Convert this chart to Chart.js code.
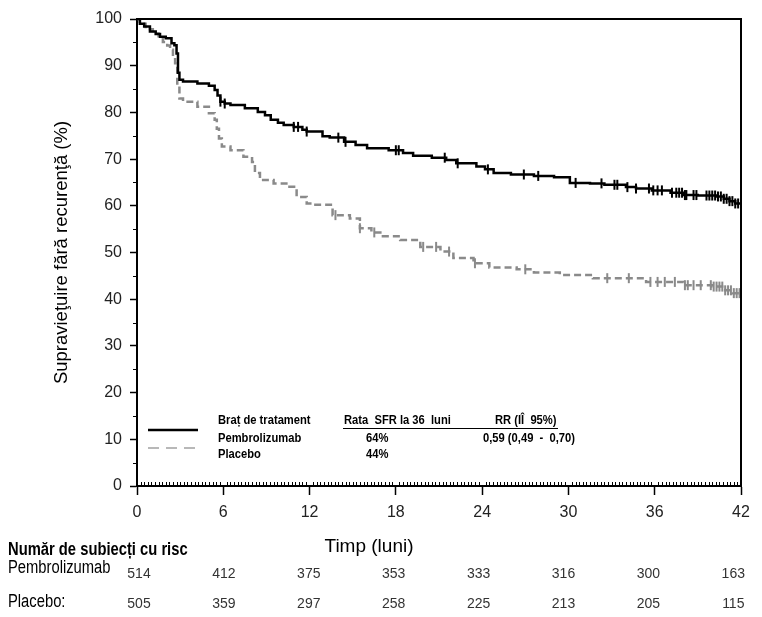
<!DOCTYPE html>
<html>
<head>
    <title>Supraviețuire fără recurență</title>
    <script src="https://cdn.jsdelivr.net/npm/chart.js"></script>
    <style>
        body { margin: 0; background: white; font-family: 'Liberation Sans', Arial, sans-serif; }
        .wrap { position: relative; width: 762px; height: 617px; overflow: hidden; }
        canvas { position: absolute; left: 0; top: 0; }
        .t { position: absolute; white-space: nowrap; color: #000; }
        /* no narrow face installed, so squeeze the regular one */
        .narrow { transform: scaleX(0.82); transform-origin: 0 50%; }
        .leg { font-size: 13px; font-weight: bold; line-height: 16px; transform: scaleX(0.86); transform-origin: 0 50%; }
        .num { font-size: 14px; line-height: 16px; width: 40px; text-align: center; color: #333; }
    </style>
</head>
<body>
<div class="wrap" id="wrap">
    <canvas id="kmChart" width="762" height="617"></canvas>

    <div class="t leg" style="left:218px; top:412px;">Braț de tratament</div>
    <div class="t leg" style="left:218px; top:430px;">Pembrolizumab</div>
    <div class="t leg" style="left:218px; top:446px;">Placebo</div>
    <div class="t leg" style="left:344px; top:412px;">Rata&nbsp; SFR la 36&nbsp; luni</div>
    <div class="t leg" style="left:366px; top:430px;">64%</div>
    <div class="t leg" style="left:366px; top:446px;">44%</div>
    <div class="t leg" style="left:495px; top:412px;">RR (IÎ&nbsp; 95%)</div>
    <div class="t leg" style="left:483px; top:430px;">0,59 (0,49&nbsp; -&nbsp; 0,70)</div>
    <div style="position:absolute; left:343px; top:428px; width:215px; height:1px; background:#000;"></div>

    <div class="t" style="left:269px; top:535px; width:200px; text-align:center; font-size:19px; line-height:22px;">Timp (luni)</div>
    <div class="t narrow" style="left:8px; top:539px; font-size:18px; font-weight:bold; line-height:20px;">Număr de subiecți cu risc</div>
    <div class="t narrow" style="left:8px; top:557px; font-size:18px; line-height:20px;">Pembrolizumab</div>
    <div class="t narrow" style="left:8px; top:591px; font-size:18px; line-height:20px;">Placebo:</div>
    <div id="riskRows"></div>
</div>

<script>
    // Kaplan-Meier steps (time in months, survival in %)
    const pemTime = [0, 0.2, 0.5, 0.9, 1.3, 1.6, 2.0, 2.4, 2.6, 2.75, 2.85, 2.95, 3.2, 4.2, 5.0, 5.4, 5.6, 5.8, 6.1, 6.5, 7.5, 8.4, 8.9, 9.3, 9.8, 10.2, 10.9, 11.5, 11.8, 12.9, 13.4, 14.4, 15.2, 16.0, 17.5, 18.5, 19.2, 20.5, 21.5, 22.2, 23.6, 24.2, 24.8, 26.0, 27.6, 29.0, 30.1, 31.5, 32.5, 34.0, 34.7, 35.8, 37.1, 38.0, 39.0, 40.3, 40.8, 41.2, 41.6, 42];
    const pemSurv = [100, 99, 98.4, 97.3, 96.8, 96.2, 95.9, 94.8, 94.4, 92.6, 88.5, 87.0, 86.6, 86.2, 85.7, 84.8, 83.6, 82.3, 81.9, 81.6, 80.9, 80.1, 79.4, 78.4, 77.8, 77.3, 76.9, 76.3, 75.9, 74.9, 74.6, 73.7, 73.0, 72.3, 71.9, 71.3, 70.7, 70.3, 69.8, 69.1, 68.4, 67.8, 67.0, 66.7, 66.4, 66.1, 64.9, 64.8, 64.5, 64.0, 63.7, 63.3, 62.8, 62.3, 62.2, 62.0, 61.5, 61.0, 60.5, 60.2];

    const plaTime = [0, 0.2, 0.6, 1.1, 1.5, 1.8, 2.1, 2.3, 2.5, 2.65, 2.8, 2.95, 3.2, 4.2, 5.0, 5.4, 5.55, 5.7, 5.9, 6.5, 7.4, 8.0, 8.2, 8.55, 9.5, 10.6, 11.1, 11.8, 12.3, 13.6, 14.8, 15.5, 16.3, 17.1, 18.3, 19.7, 21.1, 22.0, 23.4, 24.5, 26.4, 27.6, 29.4, 31.7, 35.4, 38.0, 40.0, 40.9, 41.4, 42];
    const plaSurv = [100, 99, 97.8, 96.9, 96.0, 95.1, 94.3, 93.4, 92.0, 90.5, 86.2, 83.0, 82.3, 81.2, 79.8, 78.4, 76.5, 74.4, 72.7, 71.9, 70.5, 69.4, 67.0, 65.5, 64.8, 64.1, 61.9, 60.5, 60.2, 58.0, 57.3, 55.2, 54.3, 53.5, 52.7, 51.2, 50.2, 48.8, 47.7, 46.8, 46.4, 45.7, 45.2, 44.5, 43.7, 43.0, 42.7, 41.9, 41.3, 41.2];

    // censored observations (months)
    const pemCens = [5.8, 6.1, 10.9, 11.2, 11.8, 14.0, 14.5, 18.0, 18.2, 21.4, 22.3, 24.4, 26.9, 27.9, 30.5, 32.3, 33.2, 33.4, 34.1, 34.7, 35.6, 35.9, 36.2, 36.5, 37.2, 37.5, 37.7, 37.9, 38.1, 38.2, 38.7, 38.9, 39.6, 39.8, 40.0, 40.2, 40.4, 40.6, 40.8, 41.0, 41.2, 41.4, 41.6, 41.8];
    const plaCens = [13.8, 15.5, 16.5, 19.9, 20.8, 21.7, 23.5, 27.0, 32.7, 34.2, 35.7, 36.2, 36.7, 37.4, 38.1, 38.3, 38.7, 39.2, 39.9, 40.1, 40.3, 40.5, 40.7, 40.9, 41.1, 41.3, 41.5, 41.7, 41.9];

    // number at risk
    const riskTimes = [0, 6, 12, 18, 24, 30, 36, 42];
    const pemRisk = [514, 412, 375, 353, 333, 316, 300, 163];
    const plaRisk = [505, 359, 297, 258, 225, 213, 205, 115];

    const xTicks = [0, 6, 12, 18, 24, 30, 36, 42];

    const BLACK = '#000000';
    const GREY = '#8a8a8a';

    function toPoints(times, surv) {
        return times.map((t, i) => ({ x: t, y: surv[i] }));
    }
    function survAt(times, surv, t) {
        let v = surv[0];
        for (let i = 0; i < times.length; i++) if (times[i] <= t) v = surv[i];
        return v;
    }
    function censPoints(cens, times, surv) {
        return cens.map(t => ({ x: t, y: survAt(times, surv, t) }));
    }

    // frame, minor ticks and legend line samples
    const extras = {
        id: 'extras',
        afterDraw(chart) {
            const { ctx, chartArea: a, scales: { x, y } } = chart;
            ctx.save();
            ctx.strokeStyle = '#000';
            ctx.lineWidth = 2;
            ctx.beginPath();
            ctx.moveTo(a.left, a.top); ctx.lineTo(a.right, a.top); ctx.lineTo(a.right, a.bottom);
            ctx.stroke();

            ctx.lineWidth = 1;
            ctx.beginPath();
            for (let v = 0.25; v < 42; v += 0.25) {
                if (v % 6 === 0) continue;
                const px = Math.round(x.getPixelForValue(v)) + 0.5;
                ctx.moveTo(px, a.bottom); ctx.lineTo(px, a.bottom - 4);
            }
            for (let v = 5; v < 100; v += 10) {
                const py = Math.round(y.getPixelForValue(v)) + 0.5;
                ctx.moveTo(a.left, py); ctx.lineTo(a.left - 4, py);
            }
            ctx.stroke();

            // legend samples
            ctx.lineWidth = 2.5;
            ctx.strokeStyle = BLACK;
            ctx.beginPath(); ctx.moveTo(148, 430); ctx.lineTo(198, 430); ctx.stroke();
            ctx.strokeStyle = '#b8b8b8';
            ctx.lineWidth = 2;
            ctx.setLineDash([11, 7]);
            ctx.beginPath(); ctx.moveTo(148, 448); ctx.lineTo(196, 448); ctx.stroke();
            ctx.restore();
        }
    };

    const chart = new Chart(document.getElementById('kmChart'), {
        type: 'line',
        data: {
            datasets: [
                { data: toPoints(pemTime, pemSurv), borderColor: BLACK, borderWidth: 2.5, stepped: 'before', pointRadius: 0, fill: false },
                { type: 'scatter', data: censPoints(pemCens, pemTime, pemSurv), borderColor: BLACK, borderWidth: 2, pointStyle: 'line', rotation: 90, radius: 5, showLine: false },
                { data: toPoints(plaTime, plaSurv), borderColor: GREY, borderWidth: 2.5, borderDash: [7, 4], stepped: 'before', pointRadius: 0, fill: false },
                { type: 'scatter', data: censPoints(plaCens, plaTime, plaSurv), borderColor: GREY, borderWidth: 2, pointStyle: 'line', rotation: 90, radius: 5, showLine: false }
            ]
        },
        options: {
            responsive: false,
            animation: false,
            layout: { padding: { left: 0, top: 19, right: 21, bottom: 0 } },
            plugins: { legend: { display: false }, tooltip: { enabled: false } },
            scales: {
                x: {
                    type: 'linear', min: 0, max: 42,
                    afterBuildTicks: s => { s.ticks = xTicks.map(v => ({ value: v })); },
                    ticks: { color: '#222', font: { size: 16, family: "'Liberation Sans', Arial" }, padding: 8, maxRotation: 0 },
                    grid: { drawOnChartArea: false, tickLength: 9, tickColor: '#000', tickWidth: 1.5 },
                    border: { color: '#000', width: 2 },
                    afterFit: s => { s.height = 131; }
                },
                y: {
                    min: 0, max: 100,
                    ticks: { stepSize: 10, color: '#222', font: { size: 16, family: "'Liberation Sans', Arial" }, padding: 8 },
                    grid: { drawOnChartArea: false, tickLength: 7, tickColor: '#000', tickWidth: 1.5 },
                    border: { color: '#000', width: 2 },
                    title: { display: true, text: 'Supravieţuire fără recurenţă (%)', color: '#000', font: { size: 18.5, family: "'Liberation Sans', Arial" }, padding: { top: 51 } },
                    afterFit: s => { s.width = 137; }
                }
            }
        },
        plugins: [extras]
    });

    // number-at-risk rows, laid out under the axis
    const rows = document.getElementById('riskRows');
    [[pemRisk, 565], [plaRisk, 595]].forEach(([vals, top]) => {
        vals.forEach((v, i) => {
            const d = document.createElement('div');
            d.className = 't num';
            d.style.left = (139 + i * 84.9 - 20) + 'px';
            d.style.top = top + 'px';
            d.textContent = v;
            rows.appendChild(d);
        });
    });
</script>
</body>
</html>
